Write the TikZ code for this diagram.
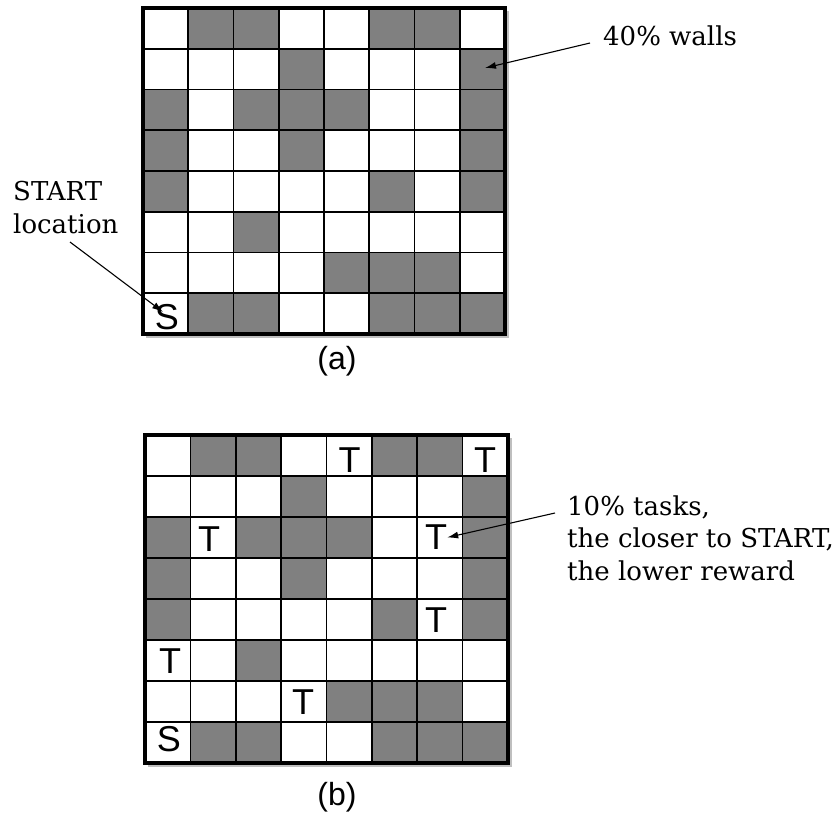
\documentclass[tikz,border=0pt]{standalone}
\usepackage{fontspec}
\setmainfont{DejaVu Serif}
\newfontfamily\marksans{Liberation Sans}
\usetikzlibrary{arrows.meta}
\definecolor{wallgray}{HTML}{808080}
\newcommand\drawmaze[4]{% x0, y0, cell width, cell height
  \foreach \r/\cs in {1/{2,3,6,7},2/{4,8},3/{1,3,4,5,8},4/{1,4,8},5/{1,6,8},6/{3},7/{5,6,7},8/{2,3,6,7,8}}{
    \foreach \c in \cs {
      \fill[wall] ({#1+(\c-1)*#3},{#2+(\r-1)*#4}) rectangle ++(#3,#4);
    }
  }
  \foreach \i in {1,...,7}{
    \draw[gridline] ({#1+\i*#3},#2) -- ({#1+\i*#3},{#2+8*#4});
    \draw[gridline] (#1,{#2+\i*#4}) -- ({#1+8*#3},{#2+\i*#4});
  }
  \draw[shadowline] ({#1+8*#3+3},{#2+3}) -- ({#1+8*#3+3},{#2+8*#4+3}) -- ({#1+3},{#2+8*#4+3});
  \draw[border] (#1,#2) rectangle ({#1+8*#3},{#2+8*#4});
}
\begin{document}
\begin{tikzpicture}[x=1pt,y=-1pt,
  lbl/.style={font=\fontsize{26}{32.5}\selectfont, align=left, inner sep=0pt},
  cellletter/.style={font=\marksans\fontsize{36}{36}\selectfont, inner sep=0pt},
  caption/.style={font=\marksans\fontsize{32}{32}\selectfont, inner sep=0pt},
  wall/.style={fill=wallgray},
  gridline/.style={line width=1.6pt, black},
  border/.style={line width=4.5pt, black},
  shadowline/.style={line width=1.5pt, black!25},
  pointer/.style={line width=1.1pt, -{Latex[length=11pt,width=7pt]}}
]
\useasboundingbox (0,0) rectangle (837,820);
\fill[white] (0,0) rectangle (837,820);

% grid (a)
\drawmaze{143}{8}{45.25}{40.75}
% grid (b)
\drawmaze{145}{435}{45.375}{41}

% letters in the cells
\node[cellletter] (Sa) at (167,317) {S};
\node[cellletter] (Sb) at (169,739) {S};
\node[cellletter] (T1) at (349.5,460) {T};
\node[cellletter] (T2) at (485,460) {T};
\node[cellletter] (T3) at (209,539) {T};
\node[cellletter] (T4) at (436,537.5) {T};
\node[cellletter] (T5) at (436,620.5) {T};
\node[cellletter] (T6) at (170,661.5) {T};
\node[cellletter] (T7) at (303,702) {T};

% labels (base anchor = baseline of the last line)
\node[lbl, anchor=base west] (walls) at (603,45) {40\% walls};
\node[lbl, anchor=base west] (start) at (13,233) {START\\location};
\node[lbl, anchor=base west] (tasks) at (567,580) {10\% tasks,\\the closer to START,\\the lower reward};

% captions
\node[caption] (capa) at (337,361) {(a)};
\node[caption] (capb) at (337,797) {(b)};

% pointers
\coordinate (wallsfrom) at (590,43);
\coordinate (wallcell) at (485,68);
\draw[pointer] (wallsfrom) -- (wallcell);
\coordinate (startfrom) at (70,242);
\coordinate (startcell) at (163,312);
\draw[pointer] (startfrom) -- (startcell);
\coordinate (tasksfrom) at (555,513);
\draw[pointer] (tasksfrom) -- (T4.east);
\end{tikzpicture}
\end{document}
